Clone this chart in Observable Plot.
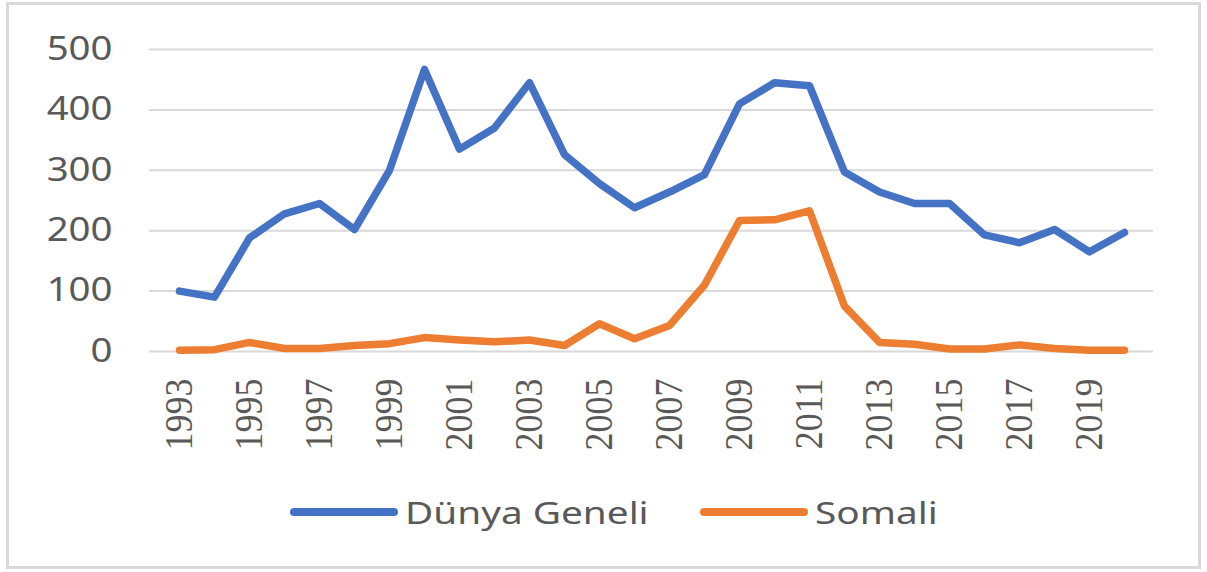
<!DOCTYPE html>
<html>
<head>
<meta charset="utf-8">
<script src="https://cdn.jsdelivr.net/npm/d3@7"></script>
<script src="https://cdn.jsdelivr.net/npm/@observablehq/plot@0.6"></script>
<style>
  html, body { margin: 0; padding: 0; background: #fff; }
  #wrap { position: relative; width: 1207px; height: 572px; overflow: hidden; background: #fff; }
  #frame { position: absolute; left: 6px; top: 2px; width: 1189px; height: 561px; border: 3px solid #d9d9d9; }
  #chart { position: absolute; left: 0; top: 0; }
  .leg { position: absolute; display: flex; align-items: center; height: 44px; top: 490px; }
  .sw { width: 108px; height: 8px; border-radius: 4px; }
  .lt { position: absolute; top: 490px; height: 44px; line-height: 44px; font-family: "Noto Sans", sans-serif; font-size: 31px; color: #595959; transform: scaleX(1.25); transform-origin: left center; white-space: nowrap; }
</style>
</head>
<body>
<div id="wrap">
  <div id="frame"></div>
  <div id="chart"></div>
  <div id="legend"></div>
</div>
<script>
const years = [1993,1994,1995,1996,1997,1998,1999,2000,2001,2002,2003,2004,2005,2006,2007,2008,2009,2010,2011,2012,2013,2014,2015,2016,2017,2018,2019,2020];
const dunyaGeneli = [100,90,188,228,245,202,300,467,335,370,445,326,278,238,264,293,410,445,440,297,264,245,245,193,180,202,165,197];
const somali = [2,3,15,5,5,10,13,23,19,16,19,10,46,21,43,110,217,218,233,75,15,12,4,4,11,5,2,2];
const seriesNames = ["Dünya Geneli", "Somali"];
const seriesColors = ["#4472C4", "#ED7D31"];
const yTicks = [0,100,200,300,400,500];
const xTicks = [1993,1995,1997,1999,2001,2003,2005,2007,2009,2011,2013,2015,2017,2019];

const data = [];
years.forEach((yr, i) => {
  data.push({year: yr, value: dunyaGeneli[i], series: seriesNames[0]});
  data.push({year: yr, value: somali[i], series: seriesNames[1]});
});

const chart = Plot.plot({
  width: 1207,
  height: 460,
  marginTop: 49,
  marginBottom: 109,
  marginLeft: 149,
  marginRight: 54,
  style: {background: "transparent", color: "#595959", overflow: "visible"},
  x: {type: "point", domain: years, padding: 0.5, label: null},
  y: {domain: [0, 500], label: null},
  color: {domain: seriesNames, range: seriesColors},
  marks: [
    Plot.gridY(yTicks, {stroke: "#d9d9d9", strokeOpacity: 1, strokeWidth: 2}),
    Plot.axisY(yTicks, {tickSize: 0, tickPadding: 37, fontSize: 32, fontFamily: "Noto Sans", label: null}),
    Plot.axisX(xTicks, {tickSize: 0, tickRotate: -90, tickPadding: 27, fontSize: 36, fontFamily: "Liberation Serif", label: null, tickFormat: d => String(d)}),
    Plot.line(data, {x: "year", y: "value", z: "series", stroke: "series", strokeWidth: 7.5, strokeLinejoin: "round", strokeLinecap: "round"})
  ]
});
document.getElementById("chart").appendChild(chart);

// widen tick labels horizontally (source picture is stretched)
d3.select(chart).selectAll('g[aria-label="y-axis tick label"] text').each(function() {
  const t = this.getAttribute("transform") || "";
  this.setAttribute("transform", t + " scale(1.2,1)");
});
d3.select(chart).selectAll('g[aria-label="x-axis tick label"] text').each(function() {
  const t = this.getAttribute("transform") || "";
  this.setAttribute("transform", t + " scale(1,1.12)");
});

const legend = document.getElementById("legend");
const legPos = [{sw: 290, tx: 405}, {sw: 700, tx: 815}];
seriesNames.forEach((name, i) => {
  const item = document.createElement("div");
  item.className = "leg";
  item.style.left = legPos[i].sw + "px";
  const sw = document.createElement("div");
  sw.className = "sw";
  sw.style.background = seriesColors[i];
  item.appendChild(sw);
  legend.appendChild(item);
  const tx = document.createElement("div");
  tx.className = "lt";
  tx.style.left = legPos[i].tx + "px";
  tx.textContent = name;
  legend.appendChild(tx);
});
</script>
</body>
</html>
